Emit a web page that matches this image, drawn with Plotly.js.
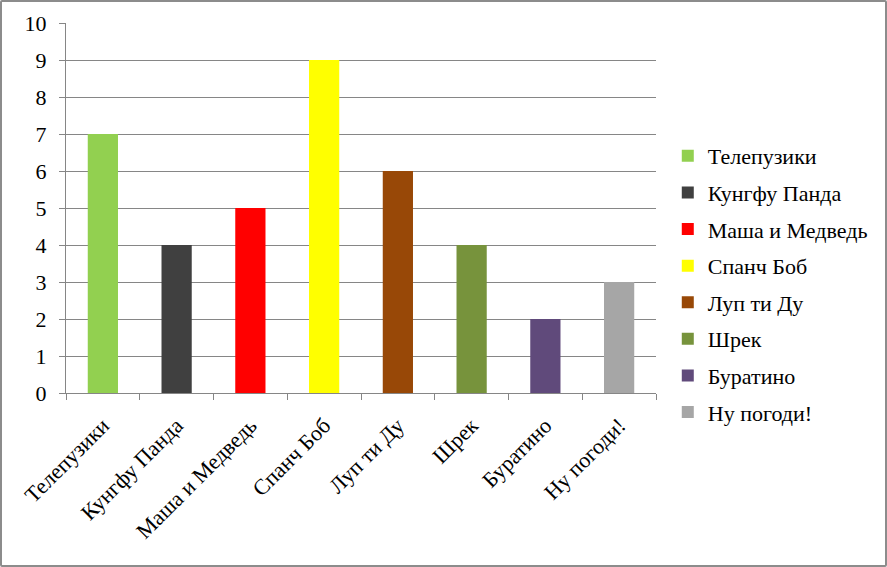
<!DOCTYPE html>
<html>
<head>
<meta charset="utf-8">
<script src="https://cdn.plot.ly/plotly-3.0.1.min.js"></script>
<style>
html,body{margin:0;padding:0;background:#fff;}
#chart{width:883px;height:563px;border:2px solid #8c8c8c;border-radius:2px;}
</style>
</head>
<body>
<div id="chart"></div>
<script>
const categories = ["Телепузики","Кунгфу Панда","Маша и Медведь","Спанч Боб","Луп ти Ду","Шрек","Буратино","Ну погоди!"];
const values = [7,4,5,9,6,4,2,3];
const colors = ["#92D050","#404040","#FF0000","#FFFF00","#984807","#77933C","#604A7B","#A6A6A6"];
const yTicks = [0,1,2,3,4,5,6,7,8,9,10];

const font = "Liberation Serif";
const traces = categories.map((c,i)=>({
  type:'bar',
  x:[c], y:[values[i]],
  name:c,
  legendgroup:'g'+i,
  marker:{color:colors[i]},
  width:0.41,
  hoverinfo:'x+y'
}));

const layout = {
  width:883, height:563,
  margin:{l:64,r:229,t:21,b:172},
  paper_bgcolor:'#fff', plot_bgcolor:'#fff',
  font:{family:font,size:22,color:'#000'},
  barmode:'overlay',
  showlegend:true,
  legend:{xref:'container',yref:'container',x:0.754,xanchor:'left',y:0.499,yanchor:'middle',
          font:{family:font,size:22,color:'#000'},maxheight:500,
          tracegroupgap:5,traceorder:'grouped',itemwidth:30},
  xaxis:{
    type:'category', categoryorder:'array', categoryarray:categories,
    tickson:'boundaries', ticks:'outside', ticklen:6, tickcolor:'#868686',
    showline:true, linecolor:'#868686', linewidth:1,
    showgrid:false, tickangle:-45, ticklabelstandoff:10,
    tickfont:{family:font,size:22,color:'#000'}
  },
  yaxis:{
    range:[0,10], tickvals:yTicks, ticktext:yTicks.map(String),
    ticks:'outside', ticklen:6, tickcolor:'#868686',
    showline:true, linecolor:'#868686', linewidth:1,
    showgrid:true, gridcolor:'#868686', gridwidth:1,
    zeroline:false, ticklabelstandoff:8,
    tickfont:{family:font,size:22,color:'#000'}
  }
};
Plotly.newPlot('chart', traces, layout, {displayModeBar:false, staticPlot:true});
</script>
</body>
</html>
